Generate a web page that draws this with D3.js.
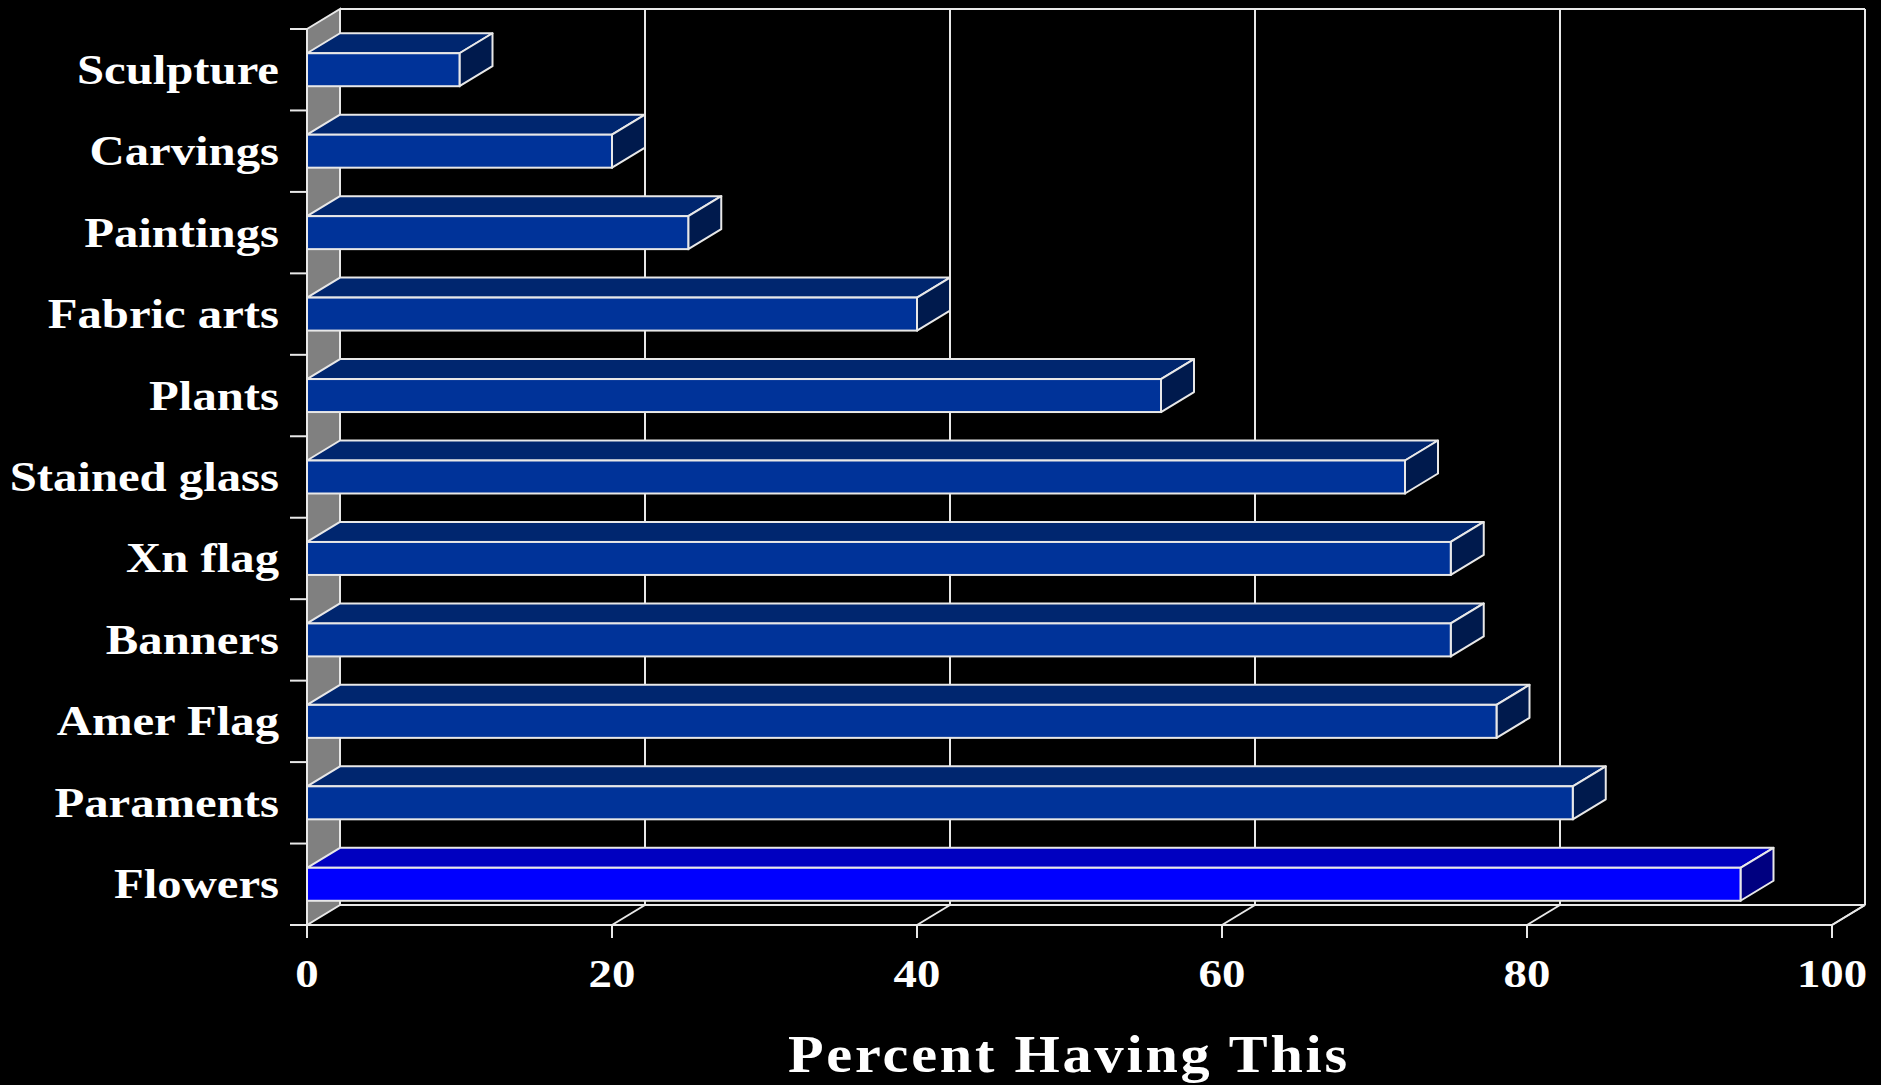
<!DOCTYPE html>
<html>
<head>
<meta charset="utf-8">
<script src="https://cdn.jsdelivr.net/npm/d3@7"></script>
<style>
  html, body { margin: 0; padding: 0; background: #000; }
  svg { display: block; }
  text { font-family: "Liberation Serif", "Times New Roman", serif; font-weight: bold; fill: #fff; }
</style>
</head>
<body>
<svg id="chart" width="1881" height="1085"></svg>
<script>
// Data
const categories = ["Sculpture", "Carvings", "Paintings", "Fabric arts", "Plants", "Stained glass", "Xn flag", "Banners", "Amer Flag", "Paraments", "Flowers"];
const values = [10, 20, 25, 40, 56, 72, 75, 75, 78, 83, 94];
const highlighted = ["Flowers"];
const xTicks = [0, 20, 40, 60, 80, 100];
const xTitle = "Percent Having This";

(function () {
const W = 1881, H = 1085;
const pLeft = 307, pRight = 1832, pTop = 29, pBottom = 925;
const dx = 33, dy = 20;

const svg = d3.select("#chart");
svg.append("rect").attr("width", W).attr("height", H).attr("fill", "#000");

const x = d3.scaleLinear().domain([0, 100]).range([pLeft, pRight]);
const y = d3.scaleBand().domain(categories).range([pTop, pBottom]).padding(0);

const lineColor = "#e8e8e8";

const g = svg.append("g");
// Back wall gridlines
g.selectAll("line.grid").data(xTicks.filter(t => t > 0 && t < 100)).enter().append("line")
  .attr("x1", d => x(d) + dx).attr("x2", d => x(d) + dx)
  .attr("y1", pTop - dy).attr("y2", pBottom - dy)
  .attr("stroke", lineColor).attr("stroke-width", 2);
// Back wall top & floor back line
g.append("line").attr("x1", pLeft + dx).attr("x2", pRight + dx).attr("y1", pTop - dy).attr("y2", pTop - dy)
  .attr("stroke", lineColor).attr("stroke-width", 2);
g.append("line").attr("x1", pLeft + dx).attr("x2", pRight + dx).attr("y1", pBottom - dy).attr("y2", pBottom - dy)
  .attr("stroke", lineColor).attr("stroke-width", 2);

// Floor diagonals
g.selectAll("line.diag").data(xTicks.filter(t => t > 0)).enter().append("line")
  .attr("x1", d => x(d)).attr("y1", pBottom)
  .attr("x2", d => x(d) + dx).attr("y2", pBottom - dy)
  .attr("stroke", lineColor).attr("stroke-width", 2);

// Right edge of back wall
g.append("line").attr("x1", pRight + dx).attr("x2", pRight + dx).attr("y1", pTop - dy).attr("y2", pBottom - dy)
  .attr("stroke", lineColor).attr("stroke-width", 2);

// Left side wall
g.append("polygon")
  .attr("points", [[pLeft, pTop], [pLeft + dx, pTop - dy], [pLeft + dx, pBottom - dy], [pLeft, pBottom]].map(p => p.join(",")).join(" "))
  .attr("fill", "#808080").attr("stroke", lineColor).attr("stroke-width", 2);

// Bars
const bh = y.bandwidth() * 0.405;
const bars = svg.append("g");
const pts = a => a.map(p => p.join(",")).join(" ");
categories.forEach((c, i) => {
  const v = values[i];
  const yc = y(c) + y.bandwidth() / 2;
  const yt = yc - bh / 2, yb = yc + bh / 2;
  const xe = x(v), x0 = x(0);
  const hi = highlighted.includes(c);
  const cols = hi ? { front: "#0000ff", top: "#0000c0", side: "#000080" }
                  : { front: "#003399", top: "#00266f", side: "#001a4d" };
  bars.append("polygon").attr("points", pts([[x0, yt], [xe, yt], [xe + dx, yt - dy], [x0 + dx, yt - dy]]))
    .attr("fill", cols.top).attr("stroke", lineColor).attr("stroke-width", 2).attr("stroke-linejoin", "round");
  bars.append("polygon").attr("points", pts([[xe, yt], [xe + dx, yt - dy], [xe + dx, yb - dy], [xe, yb]]))
    .attr("fill", cols.side).attr("stroke", lineColor).attr("stroke-width", 2).attr("stroke-linejoin", "round");
  bars.append("rect").attr("x", x0).attr("y", yt).attr("width", xe - x0).attr("height", bh)
    .attr("fill", cols.front).attr("stroke", lineColor).attr("stroke-width", 2);
});

// Front axes
const ax = svg.append("g");
ax.append("line").attr("x1", pLeft).attr("x2", pLeft).attr("y1", pTop).attr("y2", pBottom + 13)
  .attr("stroke", lineColor).attr("stroke-width", 2);
ax.append("line").attr("x1", pLeft - 17).attr("x2", pRight).attr("y1", pBottom).attr("y2", pBottom)
  .attr("stroke", lineColor).attr("stroke-width", 2);
ax.append("line").attr("x1", pRight).attr("y1", pBottom).attr("x2", pRight + dx).attr("y2", pBottom - dy)
  .attr("stroke", lineColor).attr("stroke-width", 2);

// Y band ticks
const yEdges = categories.map(c => y(c)).concat([pBottom]);
ax.selectAll("line.ytick").data(yEdges).enter().append("line")
  .attr("x1", pLeft - 17).attr("x2", pLeft).attr("y1", d => d).attr("y2", d => d)
  .attr("stroke", lineColor).attr("stroke-width", 2);

// X ticks
ax.selectAll("line.xtick").data(xTicks).enter().append("line")
  .attr("x1", d => x(d)).attr("x2", d => x(d)).attr("y1", pBottom).attr("y2", pBottom + 13)
  .attr("stroke", lineColor).attr("stroke-width", 2);

// X tick labels (horizontally stretched like the original)
ax.selectAll("text.xl").data(xTicks).enter().append("text")
  .attr("transform", d => `translate(${x(d)},987) scale(1.2,1)`)
  .attr("text-anchor", "middle")
  .style("font-size", "39px")
  .text(d => d);

// Category labels
ax.selectAll("text.yl").data(categories).enter().append("text")
  .attr("transform", d => `translate(279,${y(d) + y.bandwidth() / 2 + 14}) scale(1.16,1)`)
  .attr("text-anchor", "end")
  .style("font-size", "42px")
  .text(d => d);

// Axis title
ax.append("text")
  .attr("transform", "translate(1069,1072) scale(1.12,1)")
  .attr("text-anchor", "middle")
  .style("font-size", "52px").style("letter-spacing", "2.5px")
  .text(xTitle);
})();
</script>
</body>
</html>
